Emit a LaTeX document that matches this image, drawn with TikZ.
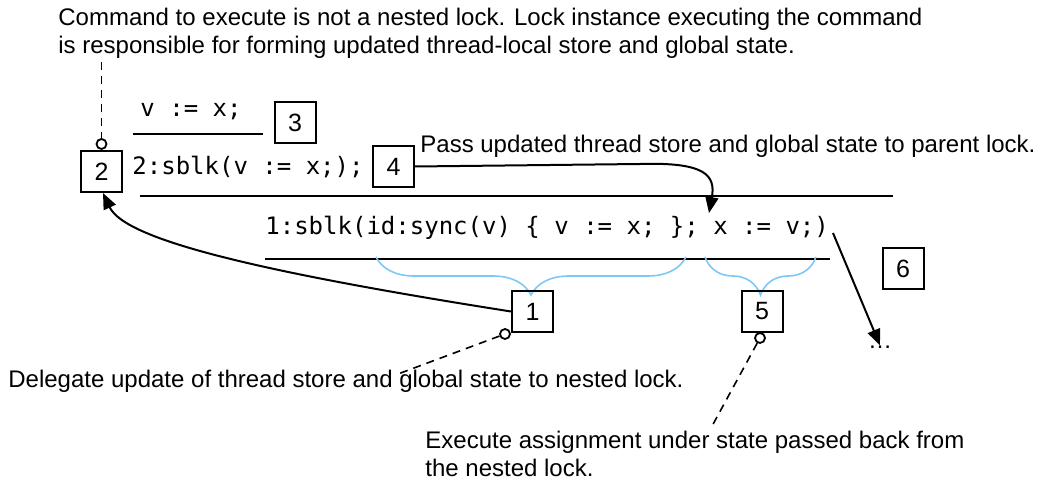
\documentclass[tikz,border=0pt]{standalone}
\usepackage{fontspec}
\setmainfont{Liberation Sans}
\newfontfamily\codefont{DejaVu Sans Mono}
\usetikzlibrary{arrows.meta,decorations.pathreplacing}
\definecolor{bracecol}{RGB}{125,200,245}
\begin{document}
\begin{tikzpicture}[x=0.5pt,y=-0.5pt,
  every node/.style={inner sep=0pt},
  numbox/.style={draw,line width=1pt,minimum size=20.5pt,font=\fontsize{12.5pt}{14pt}\selectfont},
  note/.style={font=\fontsize{12pt}{14pt}\selectfont,align=left},
  code/.style={font=\codefont\fontsize{12pt}{14pt}\selectfont},
  rule/.style={line width=1pt},
  pin/.style={draw,circle,line width=0.9pt,minimum size=5pt,fill=white},
  pinline/.style={dashed,dash pattern=on 4pt off 3pt,line width=0.8pt},
  conn/.style={line width=1pt,-{Triangle[length=8pt,width=6.5pt]}},
  curlybrace/.style={bracecol,line width=0.8pt,decorate,decoration={brace,mirror,amplitude=19pt}}
]
\useasboundingbox (0,0) rectangle (1041,481);

% top note
\node[note,anchor=west] (t1) at (58,33) {Command to execute is not a nested lock. Lock instance executing the command\\is responsible for forming updated thread-local store and global state.};

% box 2 with pin
\node[numbox] (b2) at (101.5,171.5) {2};
\node[pin] (p2) at (101.5,144) {};
\coordinate (t1foot) at (101.5,62);
\draw[pinline] (t1foot) -- (p2);

% v := x;
\node[code] (c3) at (191,112) {v := x;};
\coordinate (r1a) at (133,134);
\coordinate (r1b) at (263,134);
\draw[rule] (r1a) -- (r1b);
\node[numbox] (b3) at (295,122.5) {3};

% 2:sblk
\node[code] (c2) at (248,167) {2:sblk(v := x;);};
\node[numbox] (b4) at (393.5,166.5) {4};
\node[note,anchor=west] (t4) at (420,146) {Pass updated thread store and global state to parent lock.};

\coordinate (r2a) at (140,196);
\coordinate (r2b) at (893,196);
\draw[rule] (r2a) -- (r2b);

% 1:sblk
\node[code,anchor=west] (c1) at (265,228) {1:sblk(id:sync(v) \{ v := x; \}; x := v;)};
\coordinate (r3a) at (265,259);
\coordinate (r3b) at (830,259);
\draw[rule] (r3a) -- (r3b);

% braces
\coordinate (br1a) at (376,257);
\coordinate (br1b) at (686,257);
\coordinate (br2a) at (705,257);
\coordinate (br2b) at (816,257);
\draw[curlybrace] (br1a) -- (br1b);
\draw[curlybrace] (br2a) -- (br2b);

% box 1
\node[numbox] (b1) at (532.5,311.5) {1};
\node[pin] (p1) at (505,334) {};
\node[note,anchor=west] (t1b) at (8,381) {Delegate update of thread store and global state to nested lock.};
\coordinate (p1end) at (398,374);
\draw[pinline] (p1) -- (p1end);

% box 5
\node[numbox] (b5) at (762,311.5) {5};
\node[pin] (p5) at (760,338) {};
\node[note,anchor=west] (t5) at (425,454) {Execute assignment under state passed back from\\the nested lock.};
\coordinate (p5end) at (711,428);
\draw[pinline] (p5) -- (p5end);

% box 6 and dots
\node[numbox] (b6) at (903,268.5) {6};
\node[note] (dots) at (880,347) {\ldots};
\coordinate (c1end) at (833,233);
\draw[conn] (c1end) -- (dots.north);

% connectors
\draw[conn] (b1.west) .. controls (260,272) and (125,240) .. (103,193);
\draw[conn] (b4.east) -- (640,164) .. controls (705,162) and (716,175) .. (709,213);
\end{tikzpicture}
\end{document}
